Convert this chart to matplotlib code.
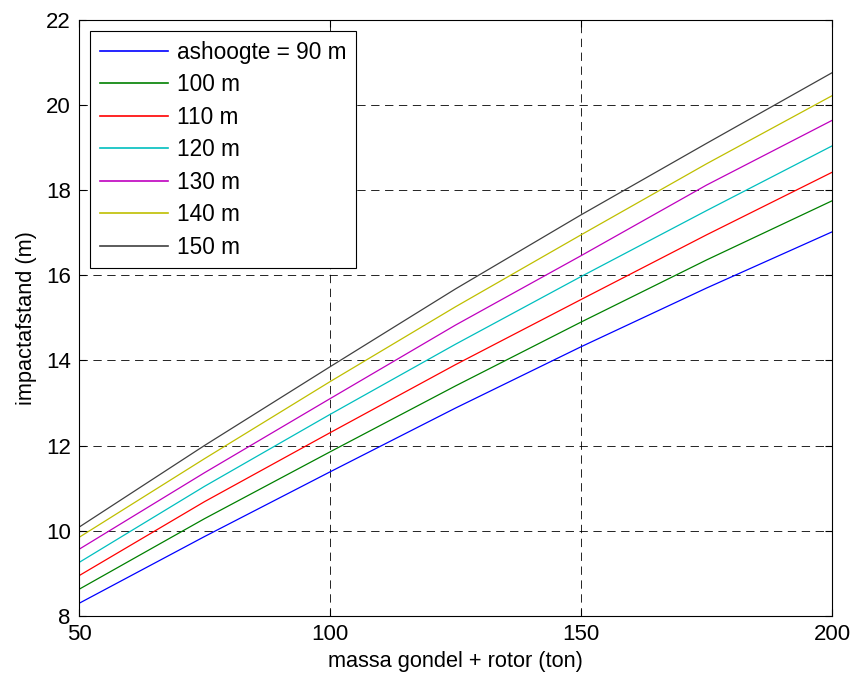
import numpy as np
import matplotlib
matplotlib.use('Agg')
from matplotlib import pyplot as plt

# massa gondel + rotor (ton)
massa = [50, 75, 100, 125, 150, 175, 200]

# impactafstand (m) per ashoogte
h90 = [8.29, 9.86, 11.38, 12.88, 14.32, 15.70, 17.02]
h100 = [8.62, 10.28, 11.85, 13.40, 14.90, 16.36, 17.75]
h110 = [8.94, 10.68, 12.30, 13.90, 15.43, 16.95, 18.42]
h120 = [9.25, 11.04, 12.73, 14.38, 15.97, 17.52, 19.04]
h130 = [9.56, 11.36, 13.10, 14.83, 16.46, 18.12, 19.64]
h140 = [9.84, 11.69, 13.50, 15.26, 16.95, 18.62, 20.22]
h150 = [10.08, 12.00, 13.85, 15.68, 17.42, 19.10, 20.76]

labels = ['ashoogte = 90 m', '100 m', '110 m', '120 m', '130 m', '140 m', '150 m']
colors = ['#0000ff', '#008000', '#ff0000', '#00bfbf', '#bf00bf', '#bfbf00', '#404040']

plt.rcParams['font.family'] = ['Liberation Sans', 'DejaVu Sans']
plt.rcParams['lines.scale_dashes'] = False

fig = plt.figure(figsize=(8.52, 6.75), dpi=100)
ax = fig.add_axes([79/852, 1 - 615.7/675, (832-79)/852, (615.7-20)/675])

for ys, lab, c in zip([h90, h100, h110, h120, h130, h140, h150], labels, colors):
    ax.plot(massa, ys, color=c, lw=0.9, label=lab)

ax.set_xlim(50, 200)
ax.set_ylim(8, 22)
ax.set_xticks([50, 100, 150, 200])
ax.set_yticks(np.arange(8, 23, 2))
ax.grid(True, color='black', linestyle=(0, (6, 4)), linewidth=0.6)
ax.tick_params(direction='in', top=True, right=True, length=5, width=0.8,
               labelsize=16, pad=6)
for s in ax.spines.values():
    s.set_linewidth(0.8)

ax.set_xlabel('massa gondel + rotor (ton)', fontsize=15.7, labelpad=4)
ax.set_ylabel('impactafstand (m)', fontsize=15.7, labelpad=6)

leg = ax.legend(loc='upper left', fontsize=16.3, handlelength=3.0,
                handletextpad=0.42, labelspacing=0.42, borderaxespad=0.5,
                borderpad=0.42, fancybox=False, framealpha=1, edgecolor='black')
leg.get_frame().set_linewidth(0.8)
for h in leg.get_lines():
    h.set_linewidth(1.2)

plt.savefig('out.png', dpi=100)
